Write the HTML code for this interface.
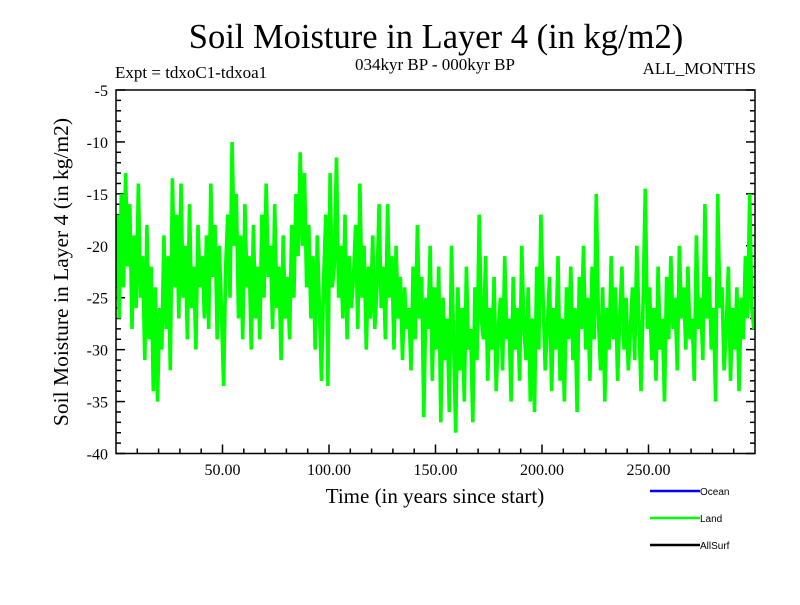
<!DOCTYPE html>
<html><head><meta charset="utf-8"><style>
body{margin:0;background:#fff;}
svg text{font-family:"Liberation Serif",serif;}
</style></head><body>
<svg id="c" width="800" height="600" viewBox="0 0 800 600">
<text x="436" y="48" font-size="34.5" text-anchor="middle">Soil Moisture in Layer 4 (in kg/m2)</text>
<text x="115" y="78" font-size="17">Expt = tdxoC1-tdxoa1</text>
<text x="435" y="70" font-size="17" text-anchor="middle">034kyr BP - 000kyr BP</text>
<text x="756" y="74" font-size="17" text-anchor="end">ALL_MONTHS</text>
<text x="435" y="503" font-size="21" text-anchor="middle">Time (in years since start)</text>
<text transform="translate(68,272) rotate(-90)" font-size="21.5" text-anchor="middle">Soil Moisture in Layer 4 (in kg/m2)</text>
<g id="ticks"></g>
<g id="series"></g>
<rect x="116" y="90" width="639" height="363.5" fill="none" stroke="#000" stroke-width="1.5"/>
<g>
<line x1="650" y1="491" x2="700" y2="491" stroke="#0000ff" stroke-width="2.5"/>
<text x="700" y="495" font-size="10" style="font-family:'Liberation Sans',sans-serif">Ocean</text>
<line x1="650" y1="518" x2="700" y2="518" stroke="#00ff00" stroke-width="2.5"/>
<text x="700" y="522" font-size="10" style="font-family:'Liberation Sans',sans-serif">Land</text>
<line x1="650" y1="545" x2="700" y2="545" stroke="#000" stroke-width="2.5"/>
<text x="700" y="549" font-size="10" style="font-family:'Liberation Sans',sans-serif">AllSurf</text>
</g>
</svg>
<script>
const xTicks=[50,100,150,200,250];
const xTickLabels=["50.00","100.00","150.00","200.00","250.00"];
const yTicks=[-5,-10,-15,-20,-25,-30,-35,-40];
const yTickLabels=["-5","-10","-15","-20","-25","-30","-35","-40"];
const landValues=[
-17,-27,-15,-24,-13,-22,-16,-28,-19,-26,-14,-25,-21,-31,-18,-29,-22,-34,-24,-35,
-26,-30,-19,-28,-21,-32,-13.5,-24,-17,-27,-14,-25,-20,-29,-16,-26,-22,-30,-18,-24,
-21,-27,-19,-28,-14,-23,-18,-29,-20,-26,-33.5,-22,-17,-25,-10,-20,-15,-27,-19,-29,
-16,-24,-21,-30,-18,-27,-22,-29,-17,-25,-14,-23,-20,-28,-16,-26,-22,-31,-19,-27,
-23,-29,-18,-25,-15,-21,-11,-20,-13,-24,-18,-27,-21,-30,-19,-26,-33,-23,-17,-33.5,
-13,-24,-22,-11.5,-25,-20,-27,-17,-29,-21,-26,-23,-18,-28,-14,-25,-20,-30,-22,-27,
-19,-28,-24,-16,-26,-22,-29,-16,-25,-21,-30,-20,-27,-23,-31,-24,-28,-26,-32,-22,
-29,-18,-27,-23,-36.5,-25,-28,-20,-33,-24,-30,-22,-37,-25,-31,-27,-36,-20,-29,-38,
-24,-32,-26,-35,-22,-30,-28,-37,-24,-31,-17,-27,-29,-21,-33,-26,-30,-23,-34,-28,
-25,-32,-21,-29,-27,-35,-23,-30,-26,-33,-20,-28,-31,-24,-35,-27,-36,-22,-30,-17,
-25,-32,-28,-23,-34,-26,-30,-21,-33,-27,-35,-24,-29,-22,-31,-26,-36,-23,-28,-20,
-30,-25,-33,-22,-29,-15,-27,-32,-24,-35,-26,-30,-21,-29,-24,-33,-27,-22,-30,-25,
-32,-28,-24,-31,-20,-27,-34,-25,-14.5,-28,-24,-31,-26,-33,-22,-30,-27,-35,-23,-29,
-21,-28,-25,-32,-20,-27,-24,-30,-22,-29,-27,-33,-19,-28,-25,-31,-16,-27,-23,-30,
-26,-35,-15,-26,-24,-32,-28,-22,-33,-26,-30,-24,-34,-25,-29,-21,-27,-15,-26,-28
];
const X0=116,X1=755,Y0=90,Y1=453.5;
const xMin=0,xMax=300,yMin=-40,yMax=-5;
function xs(v){return X0+(v-xMin)/(xMax-xMin)*(X1-X0);}
function ys(v){return Y1-(v-yMin)/(yMax-yMin)*(Y1-Y0);}
const NS="http://www.w3.org/2000/svg";
const tg=document.getElementById('ticks');
function ln(x1,y1,x2,y2){const l=document.createElementNS(NS,'line');l.setAttribute('x1',x1);l.setAttribute('y1',y1);l.setAttribute('x2',x2);l.setAttribute('y2',y2);l.setAttribute('stroke','#000');l.setAttribute('stroke-width','1.5');tg.appendChild(l);return l;}
for(let v=-40;v<=-5;v++){const major=v%5===0;const L=major?9:5;
const a=ln(X0,ys(v),X0+L,ys(v));


const b=ln(X1-L,ys(v),X1,ys(v));

}
for(let v=10;v<300;v+=10){const major=v%50===0;const L=major?9:5;
const a=ln(xs(v),Y1,xs(v),Y1-L);

}
yTicks.forEach((v,i)=>{const t=document.createElementNS(NS,'text');t.setAttribute('x',108);t.setAttribute('y',ys(v)+6);t.setAttribute('text-anchor','end');t.setAttribute('font-size','16');t.textContent=yTickLabels[i];


tg.appendChild(t);});
xTicks.forEach((v,i)=>{const t=document.createElementNS(NS,'text');t.setAttribute('x',xs(v));t.setAttribute('y',475);t.setAttribute('text-anchor','middle');t.setAttribute('font-size','16');t.textContent=xTickLabels[i];


tg.appendChild(t);});
const n=landValues.length;
const pts=landValues.map((v,i)=>xs(xMin+(i+0.5)*(xMax-xMin)/n).toFixed(1)+','+ys(v).toFixed(1)).join(' ');
const p=document.createElementNS(NS,'polyline');
p.setAttribute('points',pts);p.setAttribute('fill','none');p.setAttribute('stroke','#00ff00');p.setAttribute('stroke-width','3.6');p.setAttribute('stroke-linejoin','miter');p.setAttribute('stroke-miterlimit','2');


document.getElementById('series').appendChild(p);
</script>
</body></html>
